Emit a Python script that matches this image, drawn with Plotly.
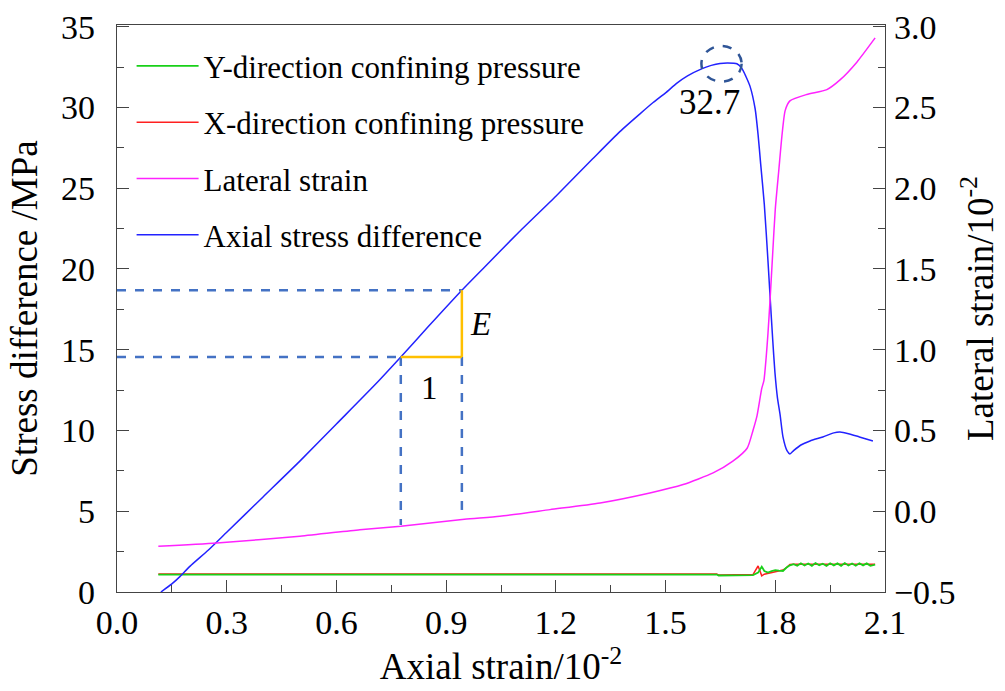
import plotly.graph_objects as go

# ---- data ----
axial_x = [0.12, 0.15, 0.172, 0.2, 0.25, 0.3, 0.4, 0.5, 0.6, 0.7, 0.776, 0.85, 0.943, 1.0,
           1.1, 1.2, 1.3, 1.375, 1.43, 1.466, 1.5, 1.531, 1.56, 1.6, 1.625, 1.649, 1.67,
           1.695, 1.709, 1.72, 1.731, 1.745, 1.753, 1.76, 1.77, 1.78, 1.786, 1.793, 1.799,
           1.806, 1.813, 1.821, 1.832, 1.84, 1.85, 1.87, 1.895, 1.93, 1.96, 1.977, 2.0,
           2.03, 2.067]
axial_stress = [0.0, 0.5, 0.95, 1.6, 2.6, 3.7, 5.9, 8.1, 10.4, 12.7, 14.55, 16.4, 18.68, 20.0,
                22.3, 24.5, 26.8, 28.5, 29.6, 30.3, 30.9, 31.5, 31.95, 32.4, 32.6, 32.72, 32.75,
                32.7, 32.4, 31.9, 31.3, 29.9, 28.3, 26.5, 24.0, 20.5, 18.2, 15.6, 13.6,
                12.0, 11.0, 9.6, 8.75, 8.55, 8.75, 9.1, 9.35, 9.6, 9.85, 9.9, 9.8,
                9.6, 9.35]

lateral_x = [0.113, 0.273, 0.5, 0.664, 0.776, 0.95, 1.047, 1.184, 1.321, 1.457, 1.548, 1.63,
             1.684, 1.723, 1.739, 1.75, 1.763, 1.769, 1.775, 1.78, 1.786, 1.793, 1.8, 1.81,
             1.818, 1.827, 1.84, 1.886, 1.941, 1.977, 2.023, 2.073]
lateral_strain = [-0.217, -0.196, -0.155, -0.114, -0.093, -0.05, -0.031, 0.01, 0.051, 0.113,
                  0.165, 0.237, 0.31, 0.39, 0.5, 0.59, 0.76, 0.81, 0.95, 1.1, 1.32, 1.6, 1.87,
                  2.12, 2.32, 2.48, 2.54, 2.58, 2.61, 2.67, 2.78, 2.93]

conf_x = [0.113, 1.64, 1.645, 1.739, 1.753, 1.758, 1.763, 1.77, 1.78, 1.79, 1.80, 1.81, 1.821,
          1.83, 1.84, 1.85, 1.86, 1.87, 1.88, 1.89, 1.90, 1.91, 1.92, 1.93, 1.94, 1.95, 1.96,
          1.97, 1.98, 1.99, 2.0, 2.01, 2.02, 2.03, 2.04, 2.05, 2.06, 2.073]
x_confining = [1.12, 1.12, 1.05, 1.08, 1.61, 1.3, 1.0, 1.1, 1.15, 1.2, 1.25, 1.3, 1.36,
               1.5, 1.7, 1.72, 1.72, 1.71, 1.72, 1.73, 1.72, 1.72, 1.73, 1.72, 1.72, 1.73, 1.72,
               1.72, 1.73, 1.72, 1.72, 1.73, 1.72, 1.72, 1.73, 1.72, 1.72, 1.72]
y_confining = [1.08, 1.08, 1.02, 1.05, 1.2, 1.4, 1.57, 1.3, 1.2, 1.3, 1.35, 1.32, 1.3,
               1.5, 1.65, 1.72, 1.62, 1.78, 1.64, 1.76, 1.62, 1.79, 1.66, 1.75, 1.61, 1.78, 1.65,
               1.77, 1.62, 1.79, 1.64, 1.76, 1.63, 1.78, 1.65, 1.77, 1.62, 1.7]

x_ticks = [0.0, 0.3, 0.6, 0.9, 1.2, 1.5, 1.8, 2.1]
peak_label = "32.7"
peak_x, peak_y = 1.653, 32.7
e_x0, e_x1 = 0.776, 0.943          # strain points of the modulus triangle
e_y0, e_y1 = 14.55, 18.68          # stress points of the modulus triangle
e_y0_foot, e_y1_foot = 4.15, 4.7   # where the vertical guides stop

FONT = "Times New Roman"
DASH_BLUE = "#4472C4"
ORANGE = "#FFC000"

fig = go.Figure()
fig.add_trace(go.Scatter(x=conf_x, y=x_confining, mode="lines", name="X-direction confining pressure",
                         line=dict(color="#FF2020", width=1.5), legendrank=2, legendgroup="b"))
fig.add_trace(go.Scatter(x=conf_x, y=y_confining, mode="lines", name="Y-direction confining pressure",
                         line=dict(color="#18D018", width=1.8), legendrank=1, legendgroup="a"))
fig.add_trace(go.Scatter(x=lateral_x, y=lateral_strain, mode="lines", name="Lateral strain",
                         line=dict(color="#FF22FF", width=1.5, shape="spline", smoothing=0.6),
                         yaxis="y2", legendrank=3, legendgroup="c"))
fig.add_trace(go.Scatter(x=axial_x, y=axial_stress, mode="lines", name="Axial stress difference",
                         line=dict(color="#2222FF", width=1.5, shape="spline", smoothing=0.6),
                         legendrank=4, legendgroup="d"))

shapes = []
dash = dict(color=DASH_BLUE, width=2.5, dash="dash")
shapes.append(dict(type="line", xref="x", yref="y", x0=0, x1=e_x1, y0=e_y1, y1=e_y1, line=dash))
shapes.append(dict(type="line", xref="x", yref="y", x0=0, x1=e_x0, y0=e_y0, y1=e_y0, line=dash))
shapes.append(dict(type="line", xref="x", yref="y", x0=e_x0, x1=e_x0, y0=e_y0, y1=e_y0_foot, line=dash))
shapes.append(dict(type="line", xref="x", yref="y", x0=e_x1, x1=e_x1, y0=e_y0, y1=e_y1_foot, line=dash))
shapes.append(dict(type="line", xref="x", yref="y", x0=e_x0, x1=e_x1, y0=e_y0, y1=e_y0,
                   line=dict(color=ORANGE, width=2.5)))
shapes.append(dict(type="line", xref="x", yref="y", x0=e_x1, x1=e_x1, y0=e_y0, y1=e_y1,
                   line=dict(color=ORANGE, width=2.5)))
shapes.append(dict(type="circle", xref="x", yref="y", x0=peak_x - 0.055, x1=peak_x + 0.055,
                   y0=peak_y - 1.1, y1=peak_y + 1.1,
                   line=dict(color="#2F5597", width=2.5, dash="dash")))

annotations = [
    dict(x=1.62, y=30.3, xref="x", yref="y", text=peak_label, showarrow=False,
         font=dict(family=FONT, size=35, color="black")),
    dict(x=0.995, y=16.6, xref="x", yref="y", text="<i>E</i>", showarrow=False,
         font=dict(family=FONT, size=33, color="black")),
    dict(x=0.855, y=12.6, xref="x", yref="y", text="1", showarrow=False,
         font=dict(family=FONT, size=33, color="black")),
]

axis_common = dict(showline=True, linecolor="#444", linewidth=1.3, ticks="inside",
                   tickcolor="#444", tickwidth=1.3, ticklen=12, showgrid=False, zeroline=False,
                   automargin=False, tickfont=dict(family=FONT, size=34, color="black"))

fig.update_layout(
    width=1005, height=691,
    margin=dict(l=117, r=120, t=25, b=99),
    paper_bgcolor="white", plot_bgcolor="white",
    font=dict(family=FONT, color="black"),
    shapes=shapes, annotations=annotations,
    legend=dict(x=0.019, y=0.975, xanchor="left", yanchor="top", bgcolor="rgba(0,0,0,0)",
                font=dict(family=FONT, size=31, color="black"), tracegroupgap=13,
                itemwidth=62),
    xaxis=dict(range=[0, 2.1], tickvals=x_ticks, tickformat=".1f", mirror=True,
               minor=dict(ticks="inside", ticklen=7, tickcolor="#444", dtick=0.15, tick0=0),
               title=dict(text="Axial strain/10<sup>-2</sup>", font=dict(family=FONT, size=37), standoff=2),
               ticklabelstandoff=0, **axis_common),
    yaxis=dict(range=[0, 35.1], dtick=5, tick0=0,
               minor=dict(ticks="inside", ticklen=7, tickcolor="#444", dtick=2.5, tick0=0),
               title=dict(text="Stress difference /MPa", font=dict(family=FONT, size=37), standoff=12),
               ticklabelstandoff=14, **axis_common),
    yaxis2=dict(range=[-0.5, 3.01], dtick=0.5, tick0=0, tickformat=".1f", overlaying="y", side="right",
                minor=dict(ticks="inside", ticklen=7, tickcolor="#444", dtick=0.25, tick0=0),
                title=dict(text="Lateral strain/10<sup>-2</sup>", font=dict(family=FONT, size=37), standoff=12),
                ticklabelstandoff=1, **axis_common),
)

fig.write_html("out.html", post_script="document.body.style.margin='0';",
               config={"displayModeBar": False})
